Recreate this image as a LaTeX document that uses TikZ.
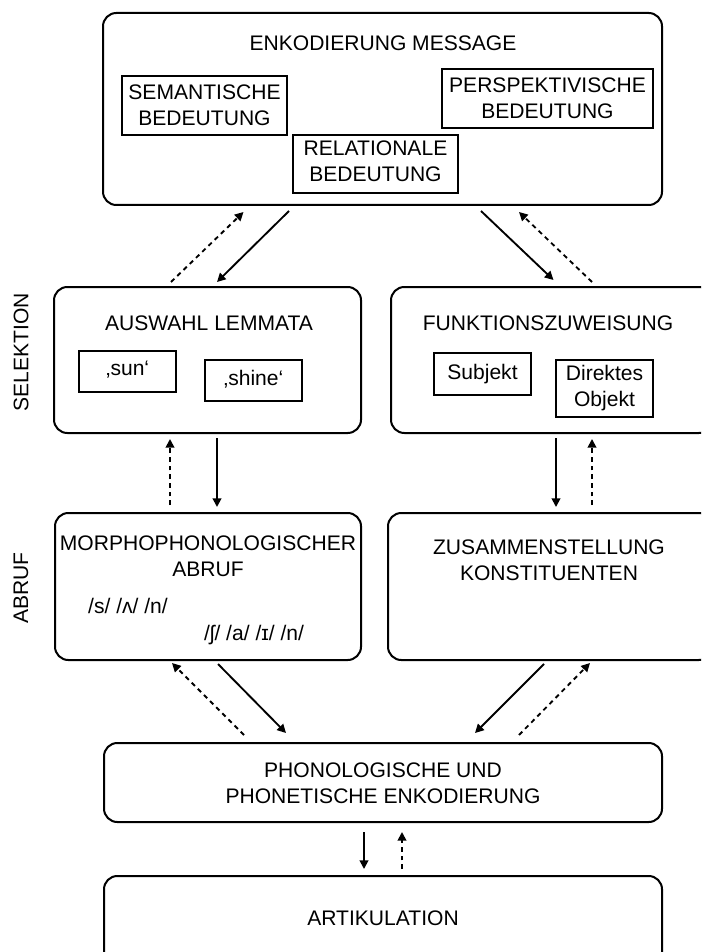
\documentclass[tikz,border=0pt]{standalone}
\usepackage{fontspec}
\setmainfont{Liberation Sans}
\usetikzlibrary{arrows.meta,fit}

\tikzset{
  stage/.style={draw, line width=1.5pt, rounded corners=10pt, inner sep=0pt},
  itembox/.style={draw, line width=1.5pt, inner sep=0pt},
  lbl/.style={inner sep=0pt, align=center},
  flow/.style={line width=1.4pt, -{Triangle[length=6.5pt,width=6.5pt]}},
  back/.style={flow, dash pattern=on 3.5pt off 3pt},
}

\begin{document}
\begin{tikzpicture}[x=0.75pt, y=-0.75pt, font=\fontsize{15.8}{19.5}\selectfont]
\useasboundingbox (0,0) rectangle (701,952);
\clip (0,0) rectangle (701,952);

% message encoding
\node[stage, fit={(103,13) (662,205)}] (msg) {};
\node[lbl] (msgt) at (383,43) {ENKODIERUNG MESSAGE};
\node[itembox, fit={(122,76) (287,135)}] (sem) {};
\node[lbl] (semt) at (sem.center) {SEMANTISCHE\\BEDEUTUNG};
\node[itembox, fit={(442,69) (653,128)}] (persp) {};
\node[lbl] (perspt) at (persp.center) {PERSPEKTIVISCHE\\BEDEUTUNG};
\node[itembox, fit={(293,135) (458,193)}] (rel) {};
\node[lbl] (relt) at ([yshift=2pt]rel.center) {RELATIONALE\\BEDEUTUNG};

% selection
\node[lbl, rotate=90] (sel) at (21,352) {SELEKTION};
\node[stage, fit={(54,287) (361,433)}] (lem) {};
\node[lbl] (lemt) at (209,323) {AUSWAHL LEMMATA};
\node[itembox, fit={(79,351) (176,392)}] (sun) {};
\node[lbl] (sunt) at ([yshift=1.5pt]sun.center) {‚sun‘};
\node[itembox, fit={(205,360) (302,401)}] (shine) {};
\node[lbl] (shinet) at ([yshift=1pt]shine.center) {‚shine‘};
\node[stage, fit={(391,287) (712,433)}] (fun) {};
\node[lbl] (funt) at (548,323) {FUNKTIONSZUWEISUNG};
\node[itembox, fit={(434,353) (531,395)}] (subj) {};
\node[lbl] (subjt) at (subj.center) {Subjekt};
\node[itembox, fit={(556,360) (653,417)}] (obj) {};
\node[lbl] (objt) at (obj.center) {Direktes\\Objekt};

% retrieval
\node[lbl, rotate=90] (abr) at (21,588) {ABRUF};
\node[stage, fit={(55,513) (361,660)}] (morph) {};
\node[lbl] (morpht) at (208,556) {MORPHOPHONOLOGISCHER\\ABRUF};
\node[lbl] (ipa1) at (128,606) {/s/ /ʌ/ /n/};
\node[lbl] (ipa2) at (254,635) {/ʃ/ /a/ /ɪ/ /n/};
\node[stage, fit={(388,513) (712,660)}] (kon) {};
\node[lbl] (kont) at (549,560) {ZUSAMMENSTELLUNG\\KONSTITUENTEN};

% phonological encoding and articulation
\node[stage, fit={(104,743) (662,822)}] (phon) {};
\node[lbl] (phont) at (383,783) {PHONOLOGISCHE UND\\PHONETISCHE ENKODIERUNG};
\node[stage, fit={(104,876) (662,968)}] (art) {};
\node[lbl] (artt) at (383,918) {ARTIKULATION};

% connector end points
\coordinate (m1a) at (289,211);  \coordinate (m1b) at (217,282);
\coordinate (m2a) at (171,282);  \coordinate (m2b) at (243.5,212);
\coordinate (m3a) at (481,211);  \coordinate (m3b) at (553.5,280);
\coordinate (m4a) at (592,282);  \coordinate (m4b) at (519,212);

\coordinate (s1a) at (217,438);  \coordinate (s1b) at (217,507);
\coordinate (s2a) at (170,505);  \coordinate (s2b) at (170,439);
\coordinate (s3a) at (556,438);  \coordinate (s3b) at (556,507);
\coordinate (s4a) at (592,505);  \coordinate (s4b) at (592,439);

\coordinate (r1a) at (218,664);  \coordinate (r1b) at (286,733);
\coordinate (r2a) at (244,735);  \coordinate (r2b) at (172,663);
\coordinate (r3a) at (544,664);  \coordinate (r3b) at (475,733);
\coordinate (r4a) at (519,735);  \coordinate (r4b) at (590,663);

\coordinate (p1a) at (364,832);  \coordinate (p1b) at (364,869);
\coordinate (p2a) at (402,869);  \coordinate (p2b) at (402,832);

% forward (solid) and feedback (dashed) connectors
\draw[flow] (m1a) -- (m1b);
\draw[back] (m2a) -- (m2b);
\draw[flow] (m3a) -- (m3b);
\draw[back] (m4a) -- (m4b);

\draw[flow] (s1a) -- (s1b);
\draw[back] (s2a) -- (s2b);
\draw[flow] (s3a) -- (s3b);
\draw[back] (s4a) -- (s4b);

\draw[flow] (r1a) -- (r1b);
\draw[back] (r2a) -- (r2b);
\draw[flow] (r3a) -- (r3b);
\draw[back] (r4a) -- (r4b);

\draw[flow] (p1a) -- (p1b);
\draw[back] (p2a) -- (p2b);
\end{tikzpicture}
\end{document}
